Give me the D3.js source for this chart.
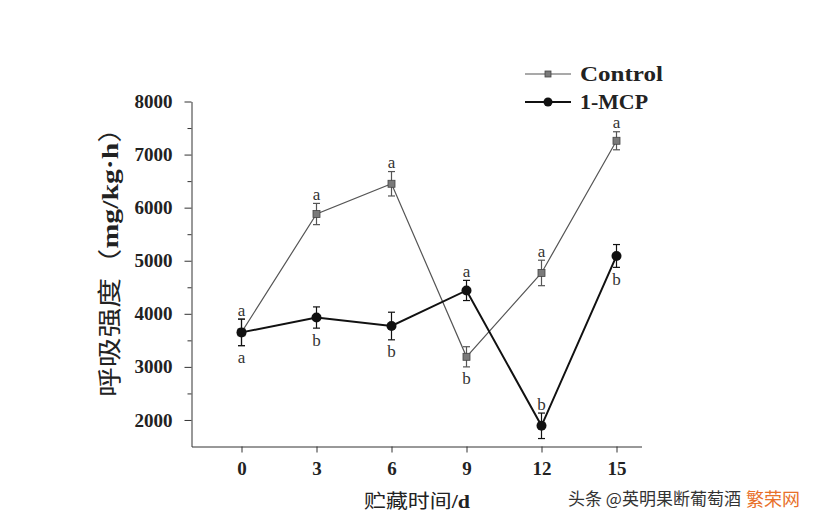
<!DOCTYPE html>
<html>
<head>
<meta charset="utf-8">
<script src="https://cdn.jsdelivr.net/npm/d3@7/dist/d3.min.js"></script>
<style>
  html, body { margin: 0; padding: 0; background: #fff; }
  svg { display: block; }
</style>
</head>
<body>
<svg id="chart" width="816" height="526"></svg>
<script>
// ---- data ----
const days = [0, 3, 6, 9, 12, 15];
const controlValues = [3650, 5880, 6450, 3190, 4770, 7260];
const controlErrors = [250, 200, 230, 190, 240, 170];
const mcpValues = [3650, 3930, 3770, 4440, 1890, 5090];
const mcpErrors = [250, 200, 260, 190, 240, 215];
const controlLetters = ["a", "a", "a", "b", "a", "a"];
const controlLetterSide = ["above", "above", "above", "below", "above", "above"];
const mcpLetters = ["a", "b", "b", "a", "b", "b"];
const mcpLetterSide = ["below", "below", "below", "above", "above", "below"];
const yTicks = [2000, 3000, 4000, 5000, 6000, 7000, 8000];
const yMinorTicks = [2500, 3500, 4500, 5500, 6500, 7500];
const seriesNames = ["Control", "1-MCP"];
const xTitle = "贮藏时间/d";
const yTitleCn = "呼吸强度";
const yTitleUnit = "mg/kg·h";
const watermark = "头条 @英明果断葡萄酒";
const watermark2 = "繁荣网";

// ---- layout ----
const svg = d3.select("#chart");
const serif = "'Liberation Serif', 'Times New Roman', serif";
const cjk = "'Noto Sans CJK SC', sans-serif";

const x = d3.scaleLinear().domain([-2, 16]).range([191.5, 641.5]);
const y = d3.scaleLinear().domain([1500, 8000]).range([446.5, 101.5]);

// axes
const yAxis = d3.axisLeft(y).tickValues(yTicks).tickSize(7).tickSizeOuter(0).tickPadding(12).tickFormat(d3.format("d"));
const gy = svg.append("g").attr("transform", "translate(191.5,0)").call(yAxis);
gy.selectAll("text").attr("font-family", serif).attr("font-weight", "bold").attr("font-size", 19).attr("fill", "#222");
gy.selectAll("line, path").attr("stroke", "#333");

const yMinor = d3.axisLeft(y).tickValues(yMinorTicks).tickSize(4).tickSizeOuter(0).tickFormat("");
const gym = svg.append("g").attr("transform", "translate(191.5,0)").call(yMinor);
gym.select("path").remove();
gym.selectAll("line").attr("stroke", "#333");

const xAxis = d3.axisBottom(x).tickValues(days).tickSize(6).tickSizeOuter(0).tickPadding(9).tickFormat(d3.format("d"));
const gx = svg.append("g").attr("transform", "translate(0,446.5)").call(xAxis);
gx.selectAll("text").attr("font-family", serif).attr("font-weight", "bold").attr("font-size", 19).attr("fill", "#222");
gx.selectAll("line, path").attr("stroke", "#333");

// titles
svg.append("text")
  .attr("x", 417).attr("y", 508)
  .attr("text-anchor", "middle")
  .attr("font-size", 19)
  .attr("fill", "#222")
  .attr("textLength", 106).attr("lengthAdjust", "spacingAndGlyphs")
  .call(t => {
    t.append("tspan").attr("font-family", cjk).text(xTitle.slice(0, 4));
    t.append("tspan").attr("font-family", serif).attr("font-weight", "bold").text(xTitle.slice(4));
  });

svg.append("text")
  .attr("transform", "translate(118,255) rotate(-90)")
  .attr("text-anchor", "middle")
  .attr("font-size", 24)
  .attr("fill", "#222")
  .attr("textLength", 284).attr("lengthAdjust", "spacingAndGlyphs")
  .call(t => {
    t.append("tspan").attr("font-family", cjk).text(yTitleCn + "（");
    t.append("tspan").attr("font-family", serif).attr("font-weight", "bold").text(yTitleUnit);
    t.append("tspan").attr("font-family", cjk).text("）");
  });

// series
const series = [
  { name: seriesNames[0], values: controlValues, errors: controlErrors, letters: controlLetters, sides: controlLetterSide,
    color: "#555", width: 1.2, marker: "square", fill: "#7a7a7a" },
  { name: seriesNames[1], values: mcpValues, errors: mcpErrors, letters: mcpLetters, sides: mcpLetterSide,
    color: "#111", width: 2, marker: "circle", fill: "#111" }
];

const line = d3.line().x(d => x(d.day)).y(d => y(d.v));

series.forEach(s => {
  const pts = days.map((d, i) => ({ day: d, v: s.values[i], e: s.errors[i], letter: s.letters[i], side: s.sides[i] }));
  const g = svg.append("g");
  // error bars
  pts.forEach(p => {
    const top = y(p.v + p.e), bot = y(p.v - p.e), cx = x(p.day);
    g.append("line").attr("x1", cx).attr("x2", cx).attr("y1", top).attr("y2", bot).attr("stroke", s.color).attr("stroke-width", 1.2);
    g.append("line").attr("x1", cx - 3.5).attr("x2", cx + 3.5).attr("y1", top).attr("y2", top).attr("stroke", s.color).attr("stroke-width", 1.2);
    g.append("line").attr("x1", cx - 3.5).attr("x2", cx + 3.5).attr("y1", bot).attr("y2", bot).attr("stroke", s.color).attr("stroke-width", 1.2);
  });
  g.append("path").datum(pts).attr("d", line).attr("fill", "none").attr("stroke", s.color).attr("stroke-width", s.width);
  pts.forEach(p => {
    const cx = x(p.day), cy = y(p.v);
    if (s.marker === "square") {
      g.append("rect").attr("x", cx - 3.5).attr("y", cy - 3.5).attr("width", 7).attr("height", 7)
        .attr("fill", s.fill).attr("stroke", "#444").attr("stroke-width", 0.8);
    } else {
      g.append("circle").attr("cx", cx).attr("cy", cy).attr("r", 5).attr("fill", s.fill);
    }
    const ly = p.side === "above" ? y(p.v + p.e) - 9 : y(p.v - p.e) + 12;
    g.append("text").attr("x", cx).attr("y", ly).attr("dy", "0.32em")
      .attr("text-anchor", "middle").attr("font-family", serif).attr("font-size", 17)
      .attr("fill", "#333").text(p.letter);
  });
});

// legend
const legend = svg.append("g");
[74, 102].forEach((ly, i) => {
  const s = series[i];
  legend.append("line").attr("x1", 525).attr("x2", 571).attr("y1", ly).attr("y2", ly)
    .attr("stroke", s.color).attr("stroke-width", s.width);
  if (s.marker === "square") {
    legend.append("rect").attr("x", 545).attr("y", ly - 3).attr("width", 6).attr("height", 6)
      .attr("fill", s.fill).attr("stroke", "#444").attr("stroke-width", 0.8);
  } else {
    legend.append("circle").attr("cx", 548).attr("cy", ly).attr("r", 4.5).attr("fill", s.fill);
  }
  legend.append("text").attr("x", 580).attr("y", ly).attr("dy", "0.35em")
    .attr("font-family", serif).attr("font-weight", "bold").attr("font-size", 20).attr("fill", "#222")
    .attr("textLength", i === 0 ? 83 : 68).attr("lengthAdjust", "spacingAndGlyphs")
    .text(s.name);
});

// watermark
svg.append("text").attr("x", 568).attr("y", 505).attr("font-family", cjk).attr("font-size", 17)
  .attr("fill", "#333").text(watermark);
svg.append("text").attr("x", 746).attr("y", 506).attr("font-family", cjk).attr("font-size", 18)
  .attr("fill", "#e8702a").attr("stroke", "#fff").attr("stroke-width", 3).attr("paint-order", "stroke")
  .text(watermark2);
</script>
</body>
</html>
